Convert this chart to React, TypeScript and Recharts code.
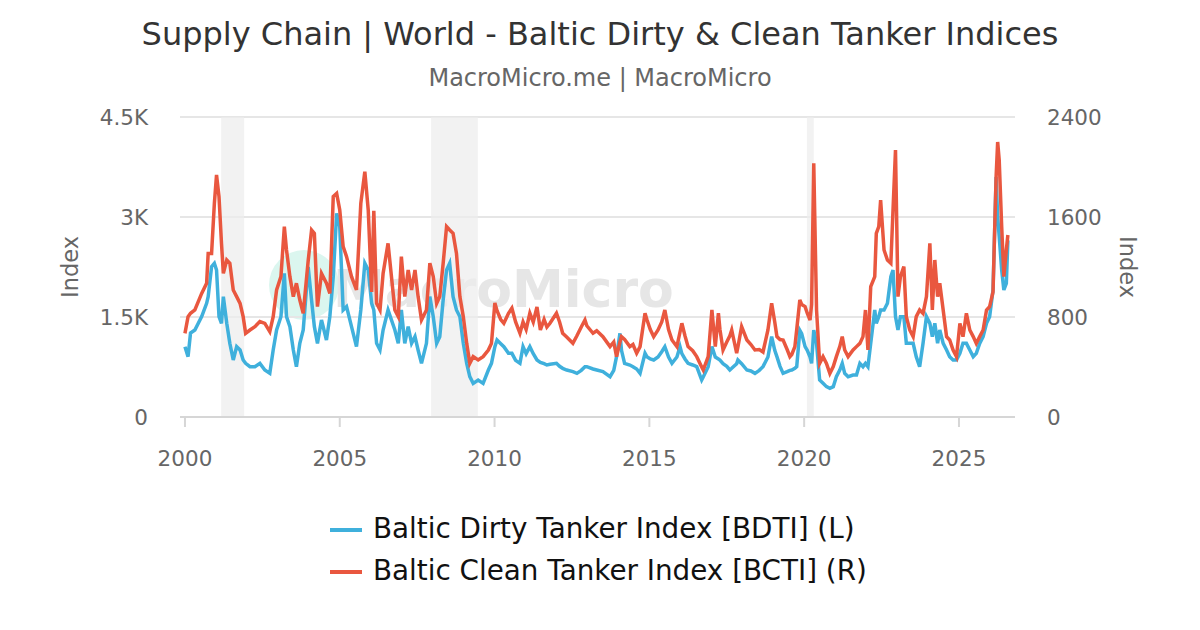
import React from 'react';
import { LineChart, Line, XAxis, YAxis, CartesianGrid, ReferenceArea } from 'recharts';

const dates = [
  2000.0, 2000.1, 2000.18, 2000.32, 2000.54, 2000.7, 2000.75, 2000.86, 2000.95, 2001.02,
  2001.1, 2001.18, 2001.24, 2001.35, 2001.45, 2001.56, 2001.67, 2001.78, 2001.88, 2001.96,
  2002.1, 2002.26, 2002.42, 2002.58, 2002.74, 2002.85, 2002.96, 2003.1, 2003.21, 2003.28,
  2003.39, 2003.5, 2003.6, 2003.71, 2003.82, 2003.98, 2004.09, 2004.18, 2004.28, 2004.41,
  2004.57, 2004.68, 2004.79, 2004.9, 2005.0, 2005.11, 2005.22, 2005.38, 2005.54, 2005.68,
  2005.81, 2005.92, 2006.03, 2006.1, 2006.19, 2006.3, 2006.4, 2006.56, 2006.78, 2006.89,
  2006.99, 2007.1, 2007.21, 2007.32, 2007.43, 2007.53, 2007.64, 2007.8, 2007.91, 2008.02,
  2008.13, 2008.23, 2008.34, 2008.45, 2008.55, 2008.66, 2008.77, 2008.88, 2008.99, 2009.1,
  2009.2, 2009.31, 2009.47, 2009.63, 2009.8, 2009.9, 2010.01, 2010.08, 2010.2, 2010.3,
  2010.45, 2010.56, 2010.68, 2010.82, 2010.92, 2011.02, 2011.14, 2011.25, 2011.37, 2011.48,
  2011.6, 2011.69, 2011.79, 2012.0, 2012.1, 2012.2, 2012.33, 2012.53, 2012.66, 2012.8,
  2012.92, 2012.98, 2013.18, 2013.3, 2013.5, 2013.73, 2013.85, 2013.94, 2014.05, 2014.1,
  2014.2, 2014.37, 2014.47, 2014.59, 2014.7, 2014.86, 2014.92, 2015.03, 2015.14, 2015.28,
  2015.4, 2015.5, 2015.62, 2015.73, 2015.89, 2015.99, 2016.05, 2016.15, 2016.25, 2016.4,
  2016.53, 2016.69, 2016.74, 2016.9, 2017.02, 2017.13, 2017.23, 2017.28, 2017.38, 2017.5,
  2017.6, 2017.66, 2017.82, 2017.86, 2017.98, 2018.15, 2018.28, 2018.41, 2018.55, 2018.67,
  2018.83, 2018.95, 2019.05, 2019.12, 2019.22, 2019.32, 2019.45, 2019.54, 2019.6, 2019.7,
  2019.76, 2019.86, 2019.92, 2020.03, 2020.1, 2020.19, 2020.24, 2020.31, 2020.4,
  2020.5, 2020.61, 2020.72, 2020.83, 2020.94, 2021.04, 2021.15, 2021.23, 2021.31,
  2021.42, 2021.58, 2021.69, 2021.8, 2021.9, 2021.98, 2022.06, 2022.15, 2022.28, 2022.33,
  2022.41, 2022.47, 2022.58, 2022.69, 2022.8, 2022.87, 2022.95, 2023.03, 2023.11, 2023.22,
  2023.3, 2023.41, 2023.52, 2023.62, 2023.73, 2023.84, 2023.95, 2024.06, 2024.14, 2024.22,
  2024.31, 2024.38, 2024.49, 2024.6, 2024.7, 2024.81, 2024.92, 2025.03, 2025.13, 2025.24,
  2025.35, 2025.46, 2025.56, 2025.67, 2025.78, 2025.89, 2025.99, 2026.1, 2026.2, 2026.25,
  2026.3, 2026.38, 2026.45, 2026.53, 2026.58,
];

const bdti = [
  1055, 905, 1260, 1305, 1505, 1705, 1805, 2255, 2305, 2205,
  1505, 1405, 1805, 1405, 1105, 855, 1055, 1005, 855, 805,
  755, 755, 805, 705, 655, 1005, 1305, 1505, 2155, 1505,
  1355, 1005, 755, 1105, 1305, 2250, 1750, 1355, 1105, 1455,
  1155, 1505, 2105, 3055, 2855, 1605, 1655, 1355, 1055, 1605,
  2305, 2205, 1705, 1605, 1105, 1005, 1305, 1605, 1305, 1105,
  1605, 1105, 1355, 1105, 1205, 1005, 805, 1105, 1805, 1505,
  1105, 1205, 1755, 2205, 2305, 1805, 1605, 1505, 1105, 805,
  605, 505, 555, 505, 705, 805, 1055, 1155, 1100, 1055,
  955, 955, 850, 805, 1055, 950, 1055, 950, 855, 820,
  800, 780, 790, 805, 760, 730, 705, 680, 655, 700,
  755, 755, 720, 705, 680, 605, 700, 905, 1255, 1000,
  805, 780, 755, 720, 655, 955, 905, 870, 855, 900,
  980, 1055, 900, 805, 900, 1055, 950, 870, 805, 780,
  755, 555, 600, 755, 1055, 900, 870, 855, 800, 760,
  705, 730, 800, 855, 800, 705, 690, 655, 700, 755,
  900, 1205, 1000, 905, 760, 655, 680, 700, 705, 730,
  755, 1300, 1250, 1055, 1000, 900, 805, 1305, 1105,
  555, 505, 455, 430, 455, 605, 705, 805, 655,
  605, 630, 630, 805, 755, 805, 755, 1105, 1605, 1405,
  1505, 1605, 1605, 1705, 2105, 2205, 1505, 1305, 1505, 1505,
  1105, 1105, 1105, 905, 755, 1105, 1505, 1405, 1205, 1405,
  1105, 1305, 1105, 1005, 905, 855, 855, 955, 1105, 1105,
  1005, 905, 955, 1105, 1205, 1405, 1505, 1905, 3600, 3000,
  2705, 2205, 1905, 2005, 2650,
];

const bcti = [
  669, 803, 830, 856, 989, 1070, 1309, 1309, 1709, 1936,
  1763, 1389, 1149, 1256, 1230, 1016, 963, 909, 803, 669,
  696, 723, 763, 749, 683, 803, 1016, 1123, 1523, 1336,
  1123, 963, 1070, 936, 829, 1250, 1496, 1469, 883, 1149,
  1070, 989, 1763, 1789, 1656, 1363, 1283, 1123, 1016, 1709,
  1963, 1656, 1000, 1650, 909, 856, 1149, 1389, 856, 803,
  1283, 963, 1176, 1016, 1176, 963, 776, 856, 1230, 1123,
  909, 963, 1230, 1523, 1496, 1469, 1309, 963, 803, 589,
  429, 483, 456, 483, 536, 589, 912, 850, 780, 750,
  830, 870, 760, 670, 760, 700, 830, 760, 880, 696,
  780, 720, 750, 830, 760, 670, 640, 590, 650, 720,
  776, 730, 670, 690, 643, 563, 600, 483, 600, 643,
  620, 563, 580, 510, 563, 830, 780, 700, 643, 696,
  760, 856, 700, 616, 563, 680, 750, 650, 563, 530,
  483, 400, 376, 483, 856, 563, 830, 700, 536, 600,
  650, 696, 510, 560, 723, 616, 580, 536, 540, 520,
  696, 910, 760, 643, 620, 616, 540, 483, 500, 563,
  700, 936, 900, 883, 830, 776, 900, 2029, 856,
  429, 483, 429, 349, 403, 483, 563, 643, 536,
  483, 536, 563, 589, 643, 856, 536, 1043, 1123, 1469,
  1523, 1736, 1336, 1256, 1230, 1656, 2136, 963, 1123, 1203,
  803, 696, 643, 803, 856, 829, 963, 1389, 856, 1256,
  963, 1070, 856, 643, 616, 536, 483, 749, 643, 829,
  696, 643, 589, 643, 696, 856, 883, 1000, 1923, 2200,
  2056, 1523, 1123, 1336, 1456,
];

const yearTicks = [2000, 2005, 2010, 2015, 2020, 2025];
const leftTicks = [0, 1500, 3000, 4500];
const leftTickLabels = ['0', '1.5K', '3K', '4.5K'];
const rightTicks = [0, 800, 1600, 2400];
const recessionStart = [2001.17, 2007.95, 2020.09];
const recessionEnd = [2001.91, 2009.46, 2020.31];
const seriesNames = ['Baltic Dirty Tanker Index [BDTI] (L)', 'Baltic Clean Tanker Index [BCTI] (R)'];
const seriesColors = ['#3fb0dc', '#e9573f'];
const titleText = 'Supply Chain | World - Baltic Dirty & Clean Tanker Indices';
const subtitleText = 'MacroMicro.me | MacroMicro';
const axisTitle = 'Index';

const data = dates.map((t, i) => ({ t, bdti: bdti[i], bcti: bcti[i] }));

const FONT = 'DejaVu Sans';

const AxisTitle = (props: any) => {
  const vb = props.viewBox || {};
  const left = props.side === 'left';
  const cx = left ? vb.x + 70 : vb.x + 113;
  const cy = vb.y + vb.height / 2;
  return (
    <text
      x={cx}
      y={cy}
      transform={`rotate(${left ? -90 : 90} ${cx} ${cy})`}
      textAnchor="middle"
      dominantBaseline="central"
      fill="#666"
      fontSize={22.5}
      fontFamily={FONT}
    >
      {axisTitle}
    </text>
  );
};

export default function App() {
  return (
    <div style={{ position: 'absolute', left: 0, top: 0, width: 1200, height: 630, background: '#fff', overflow: 'hidden' }}>
      <svg width={1200} height={630} style={{ position: 'absolute', left: 0, top: 0 }}>
        <text x={600} y={45} textAnchor="middle" fontSize={32} fill="#333" fontFamily={FONT}>
          {titleText}
        </text>
        <text x={600} y={86} textAnchor="middle" fontSize={24} fill="#666" fontFamily={FONT}>
          {subtitleText}
        </text>
        <circle cx={304} cy={285} r={35} fill="#dbf6ef" />
        <text x={333} y={307} fontSize={52} fontWeight="bold" fill="#e6e6e6" fontFamily={FONT}>
          MacroMicro
        </text>
        {seriesNames.map((name, i) => (
          <g key={name}>
            <line x1={330} x2={362} y1={530 + i * 42} y2={530 + i * 42} stroke={seriesColors[i]} strokeWidth={4} />
            <text x={373} y={538 + i * 42} fontSize={27.8} fill="#111" fontFamily={FONT}>
              {name}
            </text>
          </g>
        ))}
      </svg>
      <div style={{ position: 'absolute', left: 0, top: 0 }}>
        <LineChart width={1200} height={630} data={data} margin={{ top: 117, right: 0, bottom: 183, left: 0 }}>
          <CartesianGrid horizontal vertical={false} stroke="#e6e6e6" yAxisId="L" strokeWidth={2} />
          {recessionStart.map((s, i) => (
            <ReferenceArea key={i} yAxisId="L" x1={s} x2={recessionEnd[i]} fill="#ececec" fillOpacity={0.7} stroke="none" />
          ))}
          <XAxis
            dataKey="t"
            type="number"
            domain={[1999.84, 2026.81]}
            ticks={yearTicks}
            allowDataOverflow
            interval={0}
            height={30}
            tickSize={10}
            tickMargin={24}
            stroke="#d6d6d6"
            strokeWidth={2}
            tick={{ fill: '#666', fontSize: 21.5, fontFamily: FONT }}
            tickFormatter={(v: number) => String(v)}
          />
          <YAxis
            yAxisId="L"
            orientation="left"
            width={180}
            domain={[0, 4500]}
            ticks={leftTicks}
            interval={0}
            axisLine={false}
            tickLine={false}
            tickSize={0}
            tickMargin={32}
            tick={{ fill: '#666', fontSize: 21.5, fontFamily: FONT }}
            tickFormatter={(v: number) => leftTickLabels[leftTicks.indexOf(v)] ?? String(v)}
            label={{ content: (p: any) => <AxisTitle {...p} side="left" /> }}
          />
          <YAxis
            yAxisId="R"
            orientation="right"
            width={185}
            domain={[0, 2400]}
            ticks={rightTicks}
            interval={0}
            axisLine={false}
            tickLine={false}
            tickSize={0}
            tickMargin={32}
            tick={{ fill: '#666', fontSize: 21.5, fontFamily: FONT }}
            label={{ content: (p: any) => <AxisTitle {...p} side="right" /> }}
          />
          <Line yAxisId="L" type="linear" dataKey="bdti" stroke={seriesColors[0]} strokeWidth={3.5} dot={false} activeDot={false} isAnimationActive={false} />
          <Line yAxisId="R" type="linear" dataKey="bcti" stroke={seriesColors[1]} strokeWidth={3.5} dot={false} activeDot={false} isAnimationActive={false} />
        </LineChart>
      </div>
    </div>
  );
}
